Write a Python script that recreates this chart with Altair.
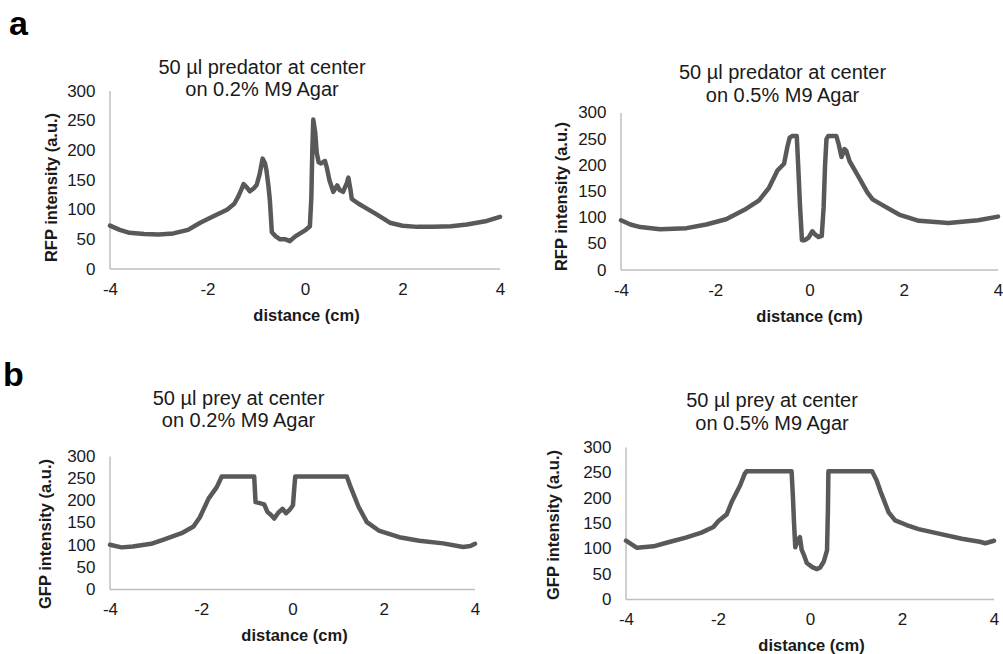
import altair as alt
import pandas as pd

# ---------------- data ----------------
p1_x = [-4.0, -3.8, -3.6, -3.3, -3.0, -2.7, -2.4, -2.15, -1.9, -1.6, -1.45, -1.37, -1.30, -1.26, -1.20,
        -1.13, -1.05, -0.99, -0.93, -0.87, -0.82, -0.79, -0.75, -0.72, -0.68, -0.60, -0.51, -0.40, -0.31,
        -0.20, -0.10, 0.0, 0.10, 0.13, 0.15, 0.17, 0.21, 0.24, 0.28, 0.33, 0.41, 0.45, 0.50, 0.58, 0.66,
        0.71, 0.78, 0.86, 0.89, 0.93, 0.96, 1.10, 1.20, 1.47, 1.74, 2.00, 2.30, 2.63, 3.00, 3.32, 3.73, 4.00]
p1_y = [73, 66, 61, 59, 58, 60, 66, 78, 88, 100, 110, 122, 135, 143, 138,
        131, 136, 142, 160, 186, 178, 166, 140, 115, 62, 55, 50, 50, 47,
        55, 60, 65, 72, 120, 200, 252, 230, 196, 180, 178, 182, 170, 150, 130, 141,
        133, 130, 145, 154, 135, 118, 110, 105, 92, 78, 73, 71, 71, 72, 75, 81, 88]

p2_x = [-4.0, -3.8, -3.59, -3.17, -2.61, -2.19, -1.77, -1.38, -1.07, -0.86, -0.68, -0.54, -0.47, -0.42,
        -0.37, -0.27, -0.24, -0.20, -0.16, -0.10, -0.02, 0.06, 0.12, 0.19, 0.26, 0.30, 0.33, 0.36, 0.40,
        0.57, 0.62, 0.68, 0.74, 0.78, 0.85, 1.06, 1.23, 1.34, 1.55, 1.90, 2.32, 2.95, 3.58, 4.0]
p2_y = [95, 87, 82, 78, 80, 87, 97, 115, 133, 157, 190, 203, 235, 253,
        256, 256, 200, 120, 57, 57, 62, 74, 68, 63, 65, 120, 200, 250, 256,
        256, 240, 216, 231, 228, 208, 175, 148, 135, 124, 106, 94, 90, 95, 102]

p3_x = [-4.0, -3.75, -3.5, -3.1, -2.84, -2.43, -2.17, -2.03, -1.84, -1.66, -1.55, -0.84, -0.81, -0.72,
        -0.62, -0.55, -0.47, -0.40, -0.32, -0.22, -0.14, -0.06, 0.01, 0.04, 0.06, 1.19, 1.26, 1.45, 1.63,
        1.89, 2.34, 2.78, 3.30, 3.74, 3.90, 4.0]
p3_y = [101, 95, 97, 103, 112, 127, 142, 163, 205, 231, 255, 255, 197, 195,
        192, 175, 168, 160, 172, 182, 172, 180, 190, 230, 255, 255, 235, 186, 152,
        133, 118, 110, 104, 96, 98, 103]

p4_x = [-4.0, -3.76, -3.4, -3.08, -2.7, -2.36, -2.1, -1.99, -1.81, -1.70, -1.52, -1.42, -1.38, -0.40,
        -0.37, -0.35, -0.32, -0.27, -0.22, -0.18, -0.12, -0.07, 0.05, 0.15, 0.22, 0.30, 0.37, 0.39, 0.40,
        1.35, 1.45, 1.53, 1.71, 1.85, 2.10, 2.36, 2.80, 3.30, 3.69, 3.81, 4.0]
p4_y = [116, 102, 105, 113, 122, 132, 143, 155, 168, 193, 225, 248, 253, 253,
        200, 156, 103, 118, 123, 98, 85, 72, 64, 60, 63, 75, 97, 180, 253,
        253, 235, 214, 172, 156, 147, 139, 130, 120, 114, 111, 116]

x_ticks = [-4, -2, 0, 2, 4]
y_ticks = [0, 50, 100, 150, 200, 250, 300]

titles = [["50 µl predator at center", "on 0.2% M9 Agar"],
          ["50 µl predator at center", "on 0.5% M9 Agar"],
          ["50 µl prey at center", "on 0.2% M9 Agar"],
          ["50 µl prey at center", "on 0.5% M9 Agar"]]
y_titles = ["RFP intensity (a.u.)", "RFP intensity (a.u.)",
            "GFP intensity (a.u.)", "GFP intensity (a.u.)"]
x_title = "distance (cm)"

FONT = "Liberation Sans"
LINE = "#595959"
AXIS = "#bfbfbf"
TXT = "#1a1a1a"


def panel(xs, ys, title, ytitle, width, height, ydom, tdx, toff,
          xoff, ytx, yty, xtx):
    assert len(xs) == len(ys)
    df = pd.DataFrame({"x": xs, "y": ys})
    xenc = alt.X("x:Q", title=x_title,
                 scale=alt.Scale(domain=[-4, 4], nice=False, zero=False),
                 axis=alt.Axis(values=x_ticks, domain=False, ticks=False, grid=False,
                               labelExpr="'' + datum.value",
                               labelFont=FONT, labelFontSize=17, labelColor=TXT,
                               labelPadding=12, offset=xoff,
                               titleFont=FONT, titleFontSize=16.5, titleFontWeight="bold",
                               titleColor=TXT, titleX=xtx, titleY=46,
                               titleBaseline="middle", labelFlush=False))
    yenc = alt.Y("y:Q", title=ytitle,
                 scale=alt.Scale(domain=ydom, nice=False, zero=False),
                 axis=alt.Axis(values=y_ticks, domain=False, ticks=False, grid=False,
                               labelFont=FONT, labelFontSize=17, labelColor=TXT,
                               labelPadding=15, labelFlush=False,
                               titleFont=FONT, titleFontSize=16.5, titleFontWeight="bold",
                               titleColor=TXT, titleX=ytx, titleY=yty,
                               titleBaseline="middle"))
    yrule = alt.Chart(pd.DataFrame({"x": [-4], "y": [0], "y2": [300]})).mark_rule(
        color=AXIS, strokeWidth=1.5).encode(x=xenc, y=yenc, y2="y2:Q")
    xrule = alt.Chart(pd.DataFrame({"x": [-4], "x2": [4], "y": [0]})).mark_rule(
        color=AXIS, strokeWidth=1.5).encode(x=xenc, x2="x2:Q", y=yenc)
    line = alt.Chart(df).mark_line(color=LINE, strokeWidth=4.5, strokeJoin="round",
                                   strokeCap="round").encode(x=xenc, y=yenc)
    return alt.layer(yrule, xrule, line).properties(
        width=width, height=height,
        title=alt.TitleParams(title, font=FONT, fontSize=20, fontWeight="normal",
                              color=TXT, lineHeight=22.5, anchor="middle", frame="group",
                              dx=tdx, offset=toff))


c1 = panel(p1_x, p1_y, titles[0], y_titles[0], 390, 178, [0, 300], -43, -18, 0, -59, 96, 196)
c2 = panel(p2_x, p2_y, titles[1], y_titles[1], 377, 179, [0, 342], -27, -14.5, 0, -60, 105, 188)
c3 = panel(p3_x, p3_y, titles[2], y_titles[2], 365, 152, [-22.6, 320.3], -54, 16, -10, -65, 86, 184)
c4 = panel(p4_x, p4_y, titles[3], y_titles[3], 368, 152, [0, 300], -38, 5, 0, -73, 77, 185)

label_a = alt.TitleParams("a", font=FONT, fontSize=34, fontWeight="bold", color="#000",
                          anchor="start", dx=-34, offset=15.5)
label_b = alt.TitleParams("b", font=FONT, fontSize=34, fontWeight="bold", color="#000",
                          anchor="start", dx=-34, offset=-4)

row1 = alt.hconcat(c1, c2, spacing=121, bounds="flush").properties(title=label_a)
row2 = alt.hconcat(c3, c4, spacing=151, bounds="flush").properties(title=label_b)

chart = alt.vconcat(row1, row2, spacing=33.5).properties(
    padding={"left": 2, "top": 8, "right": 0, "bottom": 0},
    background="white"
).configure_view(stroke=None)

chart.save("out.html", embed_options={"renderer": "svg", "actions": False})
